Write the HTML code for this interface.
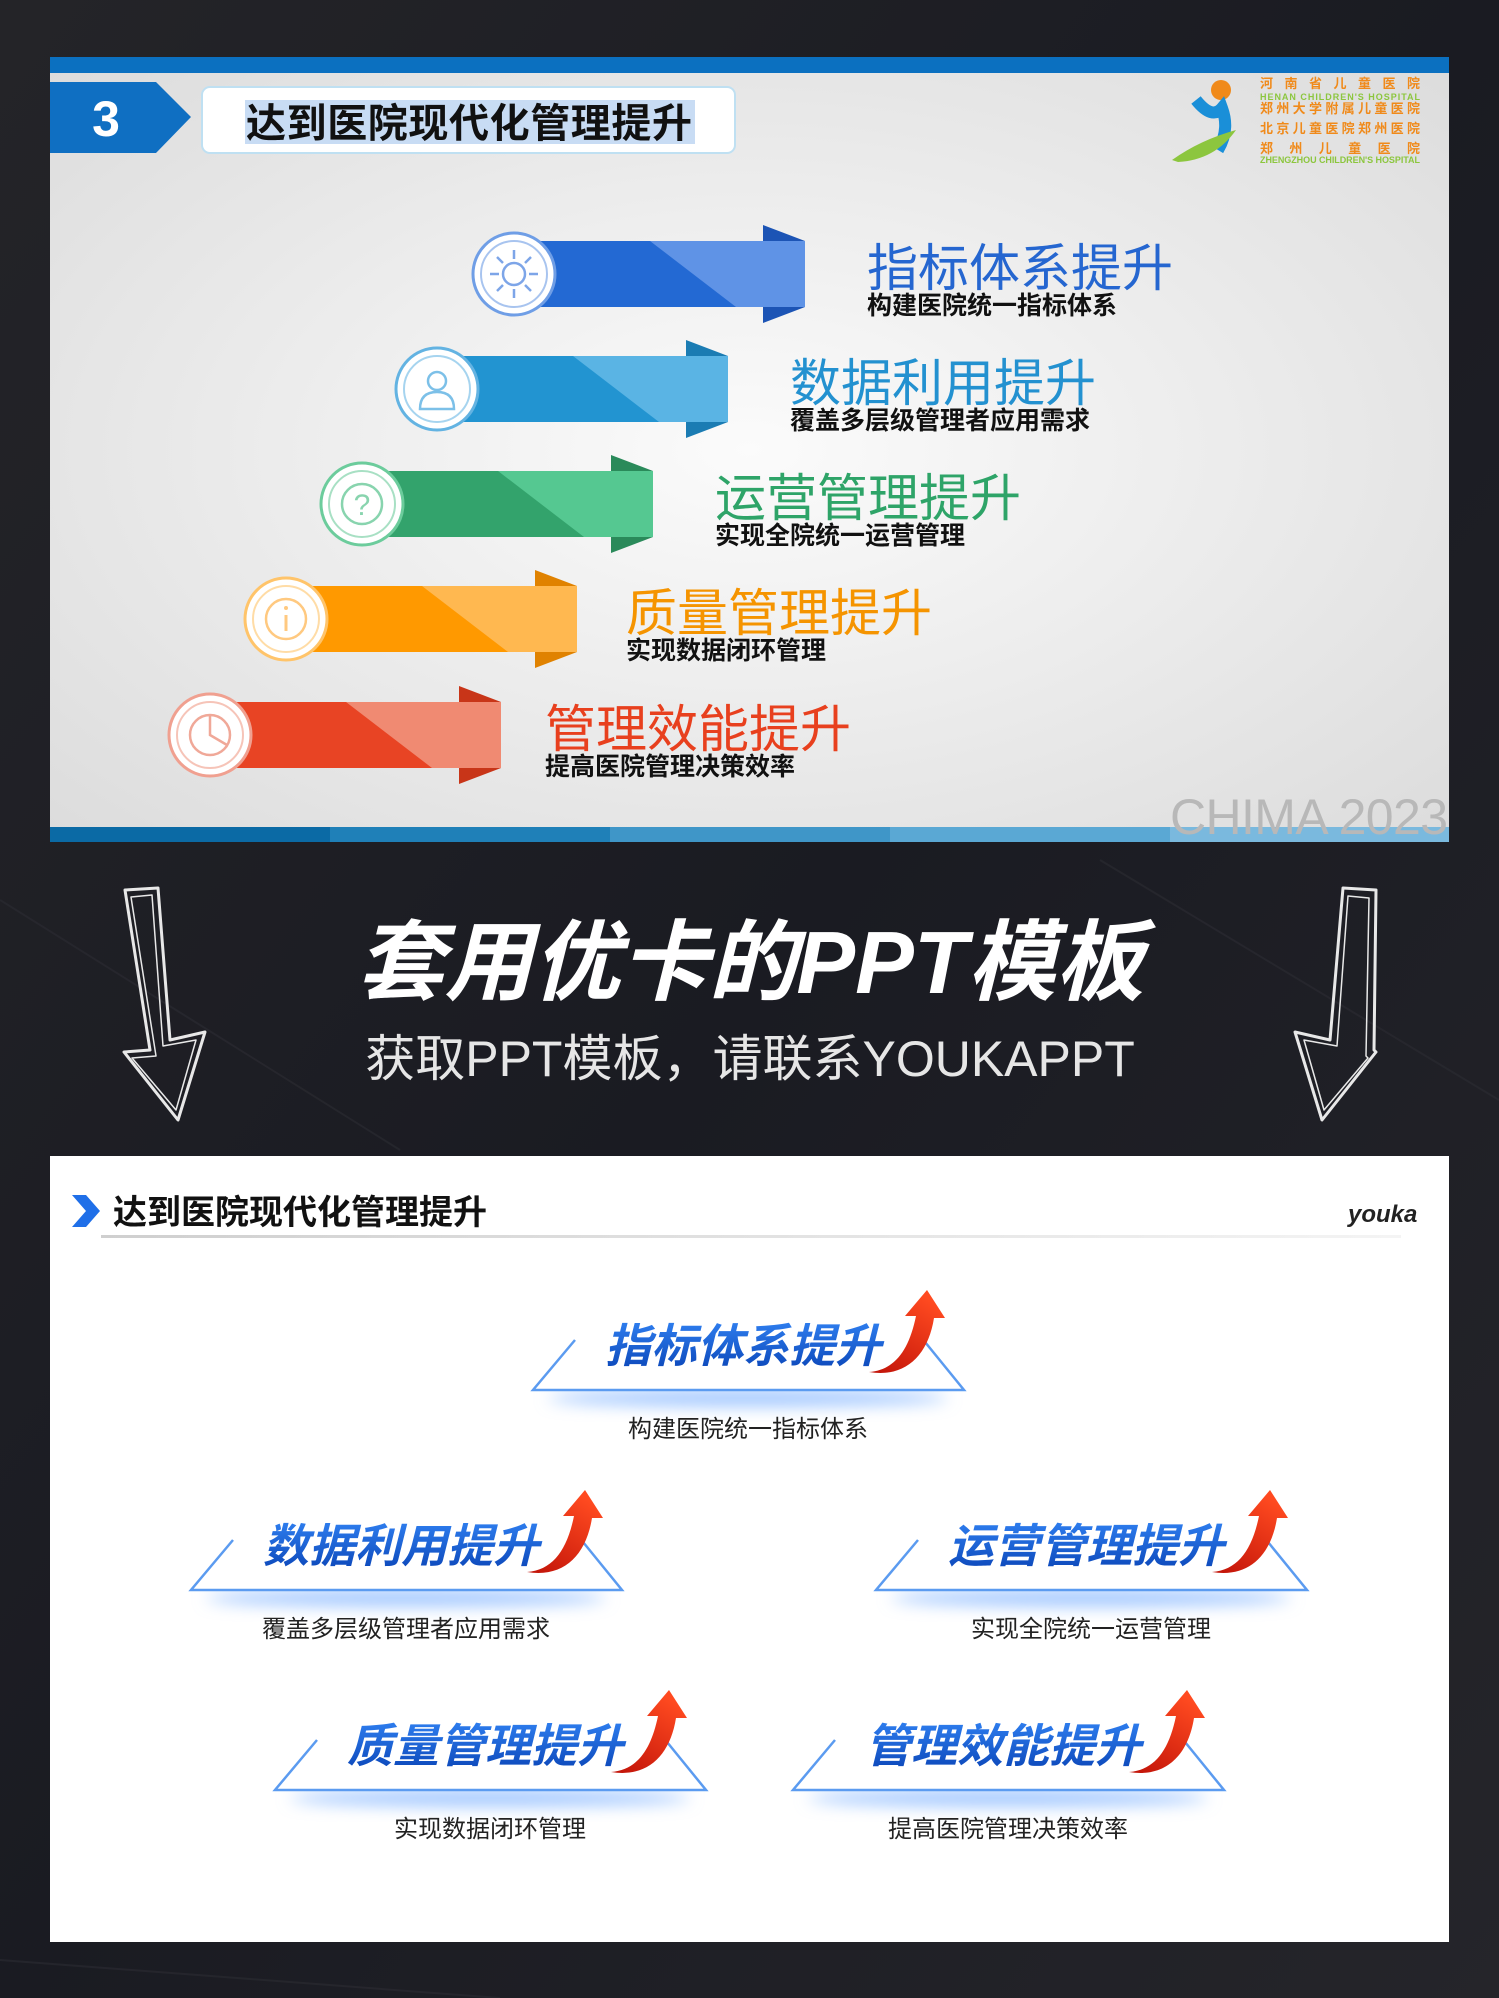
<!DOCTYPE html>
<html><head><meta charset="utf-8"><style>
html,body{margin:0;padding:0;background:#1d1d21;}
svg{display:block}
text{font-family:"Liberation Sans","Noto Sans CJK SC",sans-serif;}
</style></head><body>
<svg width="1499" height="1998" viewBox="0 0 1499 1998" xmlns="http://www.w3.org/2000/svg">
<defs>
<linearGradient id="bg" x1="0" y1="0" x2="1" y2="1"><stop offset="0" stop-color="#242428"/><stop offset="0.5" stop-color="#1a1b22"/><stop offset="1" stop-color="#25252a"/></linearGradient>
<radialGradient id="pg" cx="0.5" cy="0.5" r="0.7"><stop offset="0" stop-color="#fbfbfb"/><stop offset="1" stop-color="#dcdcdc"/></radialGradient>
<linearGradient id="tb" x1="0" y1="0" x2="0" y2="1"><stop offset="0" stop-color="#2f7ff0"/><stop offset="1" stop-color="#0b46b8"/></linearGradient>
<linearGradient id="ra" x1="0" y1="1" x2="0.6" y2="0"><stop offset="0" stop-color="#c01208"/><stop offset="1" stop-color="#ff4a20"/></linearGradient>
<linearGradient id="ul" x1="0" x2="1"><stop offset="0" stop-color="#cfcfcf"/><stop offset="1" stop-color="#f4f4f4"/></linearGradient>
<filter id="bl" x="-20%" y="-100%" width="140%" height="300%"><feGaussianBlur stdDeviation="8"/></filter>
</defs>
<rect width="1499" height="1998" fill="url(#bg)"/>
<g stroke="#2c2c33" stroke-width="2" opacity="0.6"><line x1="0" y1="900" x2="400" y2="1150"/><line x1="1100" y1="860" x2="1499" y2="1100"/><line x1="0" y1="1960" x2="500" y2="1998"/></g>

<!-- TOP PANEL -->
<rect x="50" y="57" width="1399" height="785" fill="url(#pg)"/>
<rect x="50" y="57" width="1399" height="16" fill="#0b70c0"/>
<rect x="50" y="827" width="280" height="15" fill="#0b6aa5"/>
<rect x="330" y="827" width="280" height="15" fill="#1f80b8"/>
<rect x="610" y="827" width="280" height="15" fill="#3f96c8"/>
<rect x="890" y="827" width="280" height="15" fill="#5aa8d4"/>
<rect x="1170" y="827" width="279" height="15" fill="#7ab9de"/>
<polygon points="50,82 156,82 191,117 156,153 50,153" fill="#0f6fc2"/>
<text x="106" y="136" font-size="50" font-weight="bold" fill="#fff" text-anchor="middle">3</text>
<rect x="202" y="87" width="533" height="66" rx="8" fill="#fff" stroke="#bfe0f2" stroke-width="2"/>
<rect x="245" y="100" width="450" height="44" fill="#c8dcf4"/>
<text x="246" y="137" font-size="40" font-weight="bold" fill="#111" textLength="446">达到医院现代化管理提升</text>
<!-- logo -->
<circle cx="1221" cy="90" r="10" fill="#f08a1a"/>
<path d="M1196,100 Q1212,120 1222,108 Q1230,130 1218,150" stroke="#1a8fd8" stroke-width="12" fill="none"/>
<path d="M1172,160 Q1200,140 1236,130 Q1215,160 1178,162 Z" fill="#8cc63e"/>
<g font-size="13" font-weight="bold" fill="#f08a1a">
<text x="1260" y="88" textLength="160">河 南 省 儿 童 医 院</text>
<text x="1260" y="100" font-size="9" fill="#8cc63e" textLength="160">HENAN CHILDREN'S HOSPITAL</text>
<text x="1260" y="113" textLength="160">郑州大学附属儿童医院</text>
<text x="1260" y="133" textLength="160">北京儿童医院郑州医院</text>
<text x="1260" y="153" textLength="160">郑 州 儿 童 医 院</text>
<text x="1260" y="163" font-size="9" fill="#8cc63e" textLength="160">ZHENGZHOU CHILDREN'S HOSPITAL</text>
</g>
<text x="1170" y="834" font-size="50" fill="#b8b8b8" font-family="Liberation Mono, monospace" textLength="278">CHIMA 2023</text>

<g transform="translate(514,274)">
<rect x="0" y="-33" width="291" height="66" fill="#2369d3"/><polygon points="136,-33 291,-33 291,33 222,33" fill="#5f93e6"/>
<polygon points="249,-49 291,-33 249,-33" fill="#1c54b5"/><polygon points="249,49 291,33 249,33" fill="#1c54b5"/>
<circle r="41" fill="#fff" stroke="#6f9ee6" stroke-width="3"/><circle r="33" fill="none" stroke="#a8c4ef" stroke-width="2"/>
<circle r="11" fill="none" stroke="#7da5e8" stroke-width="2.5"/><g stroke="#7da5e8" stroke-width="2.5"><line x1="0" y1="-24" x2="0" y2="-15"/><line x1="0" y1="24" x2="0" y2="15"/><line x1="-24" y1="0" x2="-15" y2="0"/><line x1="24" y1="0" x2="15" y2="0"/><line x1="-17" y1="-17" x2="-11" y2="-11"/><line x1="17" y1="17" x2="11" y2="11"/><line x1="17" y1="-17" x2="11" y2="-11"/><line x1="-17" y1="17" x2="-11" y2="11"/></g>
<text x="353" y="12" font-size="51" fill="#2566d0">指标体系提升</text>
<text x="353" y="40" font-size="25" font-weight="bold" fill="#111">构建医院统一指标体系</text>
</g>
<g transform="translate(437,389)">
<rect x="0" y="-33" width="291" height="66" fill="#2294d1"/><polygon points="136,-33 291,-33 291,33 222,33" fill="#5ab4e4"/>
<polygon points="249,-49 291,-33 249,-33" fill="#1b7cb3"/><polygon points="249,49 291,33 249,33" fill="#1b7cb3"/>
<circle r="41" fill="#fff" stroke="#63b3e2" stroke-width="3"/><circle r="33" fill="none" stroke="#a6d4ef" stroke-width="2"/>
<circle cx="0" cy="-8" r="9" fill="none" stroke="#7cc0e8" stroke-width="2.5"/><path d="M-17,20 Q-17,3 0,3 Q17,3 17,20 Z" fill="none" stroke="#7cc0e8" stroke-width="2.5"/>
<text x="353" y="12" font-size="51" fill="#2391d0">数据利用提升</text>
<text x="353" y="40" font-size="25" font-weight="bold" fill="#111">覆盖多层级管理者应用需求</text>
</g>
<g transform="translate(362,504)">
<rect x="0" y="-33" width="291" height="66" fill="#33a36c"/><polygon points="136,-33 291,-33 291,33 222,33" fill="#55c891"/>
<polygon points="249,-49 291,-33 249,-33" fill="#2a8a5a"/><polygon points="249,49 291,33 249,33" fill="#2a8a5a"/>
<circle r="41" fill="#fff" stroke="#6ccc9c" stroke-width="3"/><circle r="33" fill="none" stroke="#a8e0c4" stroke-width="2"/>
<circle r="20" fill="none" stroke="#88d4ae" stroke-width="2.5"/><text x="0" y="11" font-size="30" fill="#88d4ae" text-anchor="middle">?</text>
<text x="353" y="12" font-size="51" fill="#2ea468">运营管理提升</text>
<text x="353" y="40" font-size="25" font-weight="bold" fill="#111">实现全院统一运营管理</text>
</g>
<g transform="translate(286,619)">
<rect x="0" y="-33" width="291" height="66" fill="#ff9900"/><polygon points="136,-33 291,-33 291,33 222,33" fill="#ffb850"/>
<polygon points="249,-49 291,-33 249,-33" fill="#e08200"/><polygon points="249,49 291,33 249,33" fill="#e08200"/>
<circle r="41" fill="#fff" stroke="#ffc46a" stroke-width="3"/><circle r="33" fill="none" stroke="#ffdca6" stroke-width="2"/>
<circle r="20" fill="none" stroke="#ffc980" stroke-width="2.5"/><line x1="0" y1="-4" x2="0" y2="12" stroke="#ffc980" stroke-width="3"/><circle cx="0" cy="-11" r="2" fill="#ffc980"/>
<text x="340" y="12" font-size="51" fill="#f59400">质量管理提升</text>
<text x="340" y="40" font-size="25" font-weight="bold" fill="#111">实现数据闭环管理</text>
</g>
<g transform="translate(210,735)">
<rect x="0" y="-33" width="291" height="66" fill="#e84424"/><polygon points="136,-33 291,-33 291,33 222,33" fill="#f08a72"/>
<polygon points="249,-49 291,-33 249,-33" fill="#c83518"/><polygon points="249,49 291,33 249,33" fill="#c83518"/>
<circle r="41" fill="#fff" stroke="#f0a090" stroke-width="3"/><circle r="33" fill="none" stroke="#f6c4b8" stroke-width="2"/>
<circle r="20" fill="none" stroke="#f0a898" stroke-width="2.5"/><path d="M0,-20 L0,0 L17,10" fill="none" stroke="#f0a898" stroke-width="2.5"/>
<text x="335" y="12" font-size="51" fill="#e8401e">管理效能提升</text>
<text x="335" y="40" font-size="25" font-weight="bold" fill="#111">提高医院管理决策效率</text>
</g>

<!-- MIDDLE -->
<text x="750" y="993" font-size="88" font-weight="bold" font-style="italic" fill="#fff" text-anchor="middle">套用优卡的PPT模板</text>
<text x="750" y="1076" font-size="50" fill="#e6e6e6" text-anchor="middle">获取PPT模板，请联系YOUKAPPT</text>
<g fill="none" stroke="#e8e8e8" stroke-width="3" stroke-linejoin="round">
<polygon points="125,890 158,888 170,1040 205,1032 178,1120 124,1052 150,1050"/>
<polygon points="131,897 152,895 163,1046 196,1040 176,1110 132,1058 156,1056" stroke-width="1.5"/>
<polygon points="1343,888 1376,890 1374,1050 1376,1052 1322,1120 1295,1032 1330,1040"/>
<polygon points="1348,896 1369,898 1366,1056 1368,1058 1324,1110 1304,1040 1337,1046" stroke-width="1.5"/>
</g>

<!-- BOTTOM PANEL -->
<rect x="50" y="1156" width="1399" height="786" fill="#fff"/>
<polygon points="72,1195 86,1195 100,1211 86,1227 72,1227 86,1211" fill="#1f6fe8"/>
<text x="113" y="1224" font-size="34" font-weight="bold" fill="#111">达到医院现代化管理提升</text>
<rect x="101" y="1235" width="1300" height="3" fill="url(#ul)"/>
<text x="1348" y="1222" font-size="24" font-style="italic" font-weight="bold" fill="#222" font-family="Liberation Serif, serif">youka</text>

<g transform="translate(533,1290)">
<ellipse cx="215" cy="108" rx="200" ry="8" fill="#9cc4ff" filter="url(#bl)"/>
<polygon points="42,47 390,58 431,100 0,100" fill="#fff"/>
<path d="M42,50 L0,100 L431,100 L392,52" fill="none" stroke="#5b9bf0" stroke-width="2.5"/>
<text x="210" y="72" font-size="46" font-weight="bold" font-style="italic" fill="url(#tb)" text-anchor="middle">指标体系提升</text>
<path d="M336,82 C362,80 376,60 383,26 L372,26 L394,0 L412,28 L401,28 C395,66 372,88 336,82 Z" fill="url(#ra)"/>
<text x="215" y="147" font-size="24" fill="#222" text-anchor="middle">构建医院统一指标体系</text>
</g>
<g transform="translate(191,1490)">
<ellipse cx="215" cy="108" rx="200" ry="8" fill="#9cc4ff" filter="url(#bl)"/>
<polygon points="42,47 390,58 431,100 0,100" fill="#fff"/>
<path d="M42,50 L0,100 L431,100 L392,52" fill="none" stroke="#5b9bf0" stroke-width="2.5"/>
<text x="210" y="72" font-size="46" font-weight="bold" font-style="italic" fill="url(#tb)" text-anchor="middle">数据利用提升</text>
<path d="M336,82 C362,80 376,60 383,26 L372,26 L394,0 L412,28 L401,28 C395,66 372,88 336,82 Z" fill="url(#ra)"/>
<text x="215" y="147" font-size="24" fill="#222" text-anchor="middle">覆盖多层级管理者应用需求</text>
</g>
<g transform="translate(876,1490)">
<ellipse cx="215" cy="108" rx="200" ry="8" fill="#9cc4ff" filter="url(#bl)"/>
<polygon points="42,47 390,58 431,100 0,100" fill="#fff"/>
<path d="M42,50 L0,100 L431,100 L392,52" fill="none" stroke="#5b9bf0" stroke-width="2.5"/>
<text x="210" y="72" font-size="46" font-weight="bold" font-style="italic" fill="url(#tb)" text-anchor="middle">运营管理提升</text>
<path d="M336,82 C362,80 376,60 383,26 L372,26 L394,0 L412,28 L401,28 C395,66 372,88 336,82 Z" fill="url(#ra)"/>
<text x="215" y="147" font-size="24" fill="#222" text-anchor="middle">实现全院统一运营管理</text>
</g>
<g transform="translate(275,1690)">
<ellipse cx="215" cy="108" rx="200" ry="8" fill="#9cc4ff" filter="url(#bl)"/>
<polygon points="42,47 390,58 431,100 0,100" fill="#fff"/>
<path d="M42,50 L0,100 L431,100 L392,52" fill="none" stroke="#5b9bf0" stroke-width="2.5"/>
<text x="210" y="72" font-size="46" font-weight="bold" font-style="italic" fill="url(#tb)" text-anchor="middle">质量管理提升</text>
<path d="M336,82 C362,80 376,60 383,26 L372,26 L394,0 L412,28 L401,28 C395,66 372,88 336,82 Z" fill="url(#ra)"/>
<text x="215" y="147" font-size="24" fill="#222" text-anchor="middle">实现数据闭环管理</text>
</g>
<g transform="translate(793,1690)">
<ellipse cx="215" cy="108" rx="200" ry="8" fill="#9cc4ff" filter="url(#bl)"/>
<polygon points="42,47 390,58 431,100 0,100" fill="#fff"/>
<path d="M42,50 L0,100 L431,100 L392,52" fill="none" stroke="#5b9bf0" stroke-width="2.5"/>
<text x="210" y="72" font-size="46" font-weight="bold" font-style="italic" fill="url(#tb)" text-anchor="middle">管理效能提升</text>
<path d="M336,82 C362,80 376,60 383,26 L372,26 L394,0 L412,28 L401,28 C395,66 372,88 336,82 Z" fill="url(#ra)"/>
<text x="215" y="147" font-size="24" fill="#222" text-anchor="middle">提高医院管理决策效率</text>
</g>
</svg>
</body></html>
